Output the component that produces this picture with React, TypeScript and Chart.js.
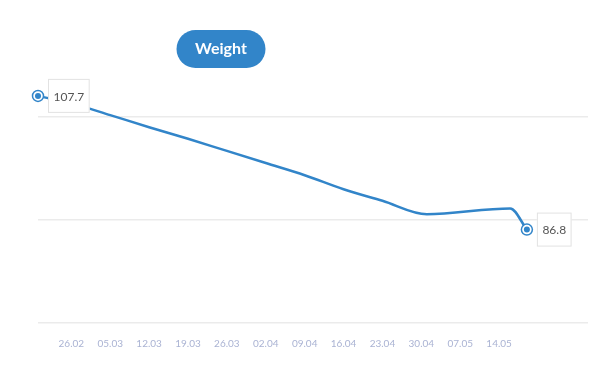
import React, { useEffect, useRef } from "react";
import { Chart, registerables } from "chart.js";

Chart.register(...registerables);

// ---- data ----
const dates = ["20.02", "27.02", "05.03", "12.03", "19.03", "26.03", "02.04", "09.04", "16.04", "23.04", "01.05", "16.05", "19.05"];
const weights = [107.7, 106.3, 104.7, 102.8, 101.0, 99.1, 97.2, 95.3, 93.1, 91.3, 89.2, 90.1, 86.8];
const tickLabels = ["26.02", "05.03", "12.03", "19.03", "26.03", "02.04", "09.04", "16.04", "23.04", "30.04", "07.05", "14.05"];
const yGridValues = [72.2, 88.3, 104.4];
const seriesName = "Weight";

const monthStart = [0, 31, 59, 90, 120, 151, 181, 212, 243, 273, 304, 334];
const dayOfYear = (s: string) => {
  const [d, m] = s.split(".").map(Number);
  return monthStart[m - 1] + d;
};
const origin = dayOfYear(tickLabels[0]);
const dayOffset = (s: string) => dayOfYear(s) - origin;

const BLUE = "#3285c9";

const endpointPlugin = {
  id: "endpoints",
  afterDatasetsDraw(chart: any) {
    const ctx = chart.ctx;
    const meta = chart.getDatasetMeta(0);
    const pts = meta.data;
    const idxs = [0, pts.length - 1];
    ctx.save();
    for (const i of idxs) {
      const p = pts[i];
      const x = p.x, y = p.y;
      ctx.beginPath();
      ctx.arc(x, y, 5.5, 0, Math.PI * 2);
      ctx.fillStyle = "#ffffff";
      ctx.fill();
      ctx.lineWidth = 1.5;
      ctx.strokeStyle = BLUE;
      ctx.stroke();
      ctx.beginPath();
      ctx.arc(x, y, 3, 0, Math.PI * 2);
      ctx.fillStyle = BLUE;
      ctx.fill();
      const text = String(weights[i]);
      ctx.font = "12px Lato";
      const tw = ctx.measureText(text).width;
      const bw = tw + 11;
      const bh = 34;
      const bx = x + 10;
      const by = y - bh / 2;
      ctx.fillStyle = "#ffffff";
      ctx.fillRect(bx, by, bw, bh);
      ctx.strokeStyle = "#e2e2e2";
      ctx.lineWidth = 1;
      ctx.strokeRect(bx + 0.5, by + 0.5, bw - 1, bh - 1);
      ctx.fillStyle = "#555555";
      ctx.textAlign = "center";
      ctx.textBaseline = "middle";
      ctx.fillText(text, bx + bw / 2, y + 1);
    }
    ctx.restore();
  },
};

const pillPlugin = {
  id: "pill",
  afterDraw(chart: any) {
    const ctx = chart.ctx;
    const cx = 221, cy = 49, w = 89, h = 38;
    ctx.save();
    ctx.beginPath();
    ctx.roundRect(cx - w / 2, cy - h / 2, w, h, h / 2);
    ctx.fillStyle = BLUE;
    ctx.fill();
    ctx.fillStyle = "#ffffff";
    ctx.font = "bold 16px Lato";
    ctx.textAlign = "center";
    ctx.textBaseline = "middle";
    ctx.fillText(seriesName, cx, cy);
    ctx.restore();
  },
};

export default function App() {
  const ref = useRef<HTMLCanvasElement | null>(null);
  useEffect(() => {
    document.body.style.margin = "0";
    const chart = new Chart(ref.current as HTMLCanvasElement, {
      type: "line",
      data: {
        datasets: [
          {
            label: seriesName,
            data: dates.map((d, i) => ({ x: dayOffset(d), y: weights[i] })),
            borderColor: BLUE,
            borderWidth: 2.5,
            pointRadius: 0,
            pointHoverRadius: 0,
            cubicInterpolationMode: "monotone",
            fill: false,
            clip: false as any,
          },
        ],
      },
      options: {
        animation: false,
        responsive: false,
        maintainAspectRatio: false,
        layout: { padding: { left: 38, right: 12, top: 14, bottom: 17 } },
        plugins: { legend: { display: false }, tooltip: { enabled: false } },
        scales: {
          x: {
            type: "linear",
            min: dayOffset(dates[0]),
            max: dayOffset("30.05"),
            grid: { display: false, drawTicks: false },
            border: { display: false },
            afterBuildTicks: (scale: any) => {
              scale.ticks = tickLabels.map((t) => ({ value: dayOffset(t) }));
            },
            ticks: {
              autoSkip: false,
              maxRotation: 0,
              padding: 15,
              color: "#aab3d3",
              font: { family: "Lato", size: 10 },
              callback: (v: any) => {
                const i = tickLabels.findIndex((t) => dayOffset(t) === v);
                return i >= 0 ? tickLabels[i] : "";
              },
            },
          },
          y: {
            type: "linear",
            min: yGridValues[0],
            max: 120.5,
            afterBuildTicks: (scale: any) => {
              scale.ticks = yGridValues.map((v) => ({ value: v }));
            },
            grid: { color: "#ebebeb", lineWidth: 1.5, drawTicks: false },
            border: { display: false },
            ticks: { display: false },
          },
        },
      },
      plugins: [endpointPlugin, pillPlugin],
    } as any);
    return () => chart.destroy();
  }, []);
  return (
    <div style={{ width: 600, height: 382, position: "relative", background: "#fff" }}>
      <canvas ref={ref} width={600} height={382} />
    </div>
  );
}
